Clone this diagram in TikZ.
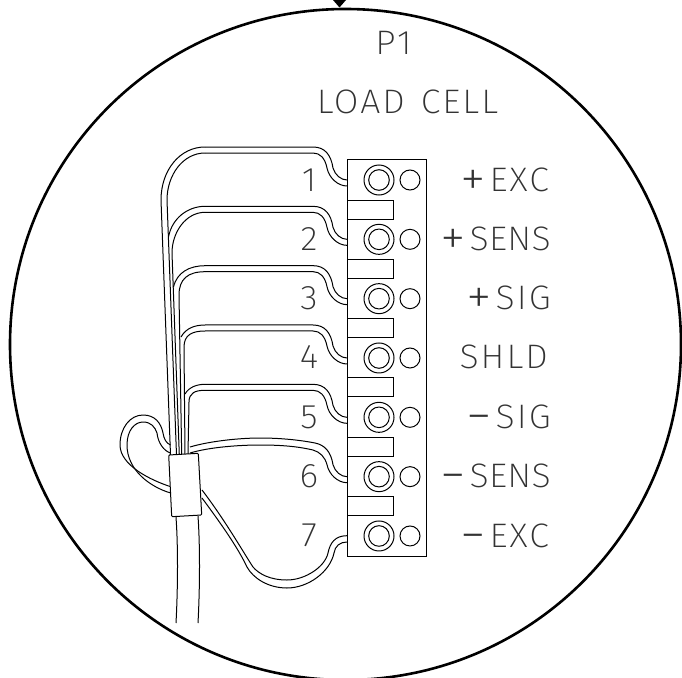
\documentclass[tikz,border=0pt]{standalone}
\usepackage{fontspec}
\newfontfamily\cadf{Fira Sans ExtraLight}[LetterSpace=6,FakeStretch=1.05]
\newfontfamily\cadn{Fira Sans ExtraLight}[LetterSpace=1,FakeStretch=1.05]
\newfontfamily\cads{Fira Sans ExtraLight}
\newcommand{\bigsign}[1]{\raisebox{-5.5pt}{\cads\fontsize{52}{52}\selectfont #1}\hspace{4pt}}
\tikzset{
  ring/.style={line width=2.6pt},
  thin line/.style={line width=1pt,black},
  lbl/.style={font=\cadf\fontsize{34}{34}\selectfont,inner sep=0pt,text=black!80},
}
\begin{document}
\begin{tikzpicture}[x=1pt,y=-1pt]
\useasboundingbox (0,0) rectangle (682,677);
\clip (0,0) rectangle (682,677);
% outer circle and pointer
\draw[ring] (345.5,344.5) circle[radius=335.5];
\fill (333,0) -- (346,0) -- (339.5,7.5) -- cycle;
% block
\draw[thin line] (347,159) rectangle (426,556);
\foreach \n in {0,...,6}{
  \begin{scope}[yshift=-\n*59.33pt]
    \draw[thin line] (379,180) circle[radius=15];
    \draw[thin line] (379,180) circle[radius=10.3];
    \draw[thin line] (410,180) circle[radius=10];
  \end{scope}
}
\foreach \n in {0,...,5}{
  \begin{scope}[yshift=-\n*59.33pt]
    \draw[thin line] (347,200) -- (393,200) -- (393,219) -- (347,219);
  \end{scope}
}
% wire top runs + S-bends
\foreach \n in {0,...,4}{
  \begin{scope}[yshift=-\n*59.33pt]
    \draw[thin line] (205,147) -- (313,147) .. controls (325,147) and (331,155) .. (333,168) .. controls (335,175) and (341,180) .. (347,180);
    \draw[thin line] (205,153) -- (313,153) .. controls (320,153) and (325,158) .. (327,168) .. controls (329,178) and (338,186) .. (347,186);
  \end{scope}
}
% left arcs and bundle
\draw[thin line] (205,147) .. controls (180,147) and (161,170) .. (161,200) -- (170.5,455);
\draw[thin line] (205,153) .. controls (183,153) and (167,175) .. (167,200) -- (176.5,455);
\draw[thin line] (205,206.3) .. controls (188,206.3) and (172,218) .. (168.5,237);
\draw[thin line] (205,212.3) .. controls (186,212.3) and (172,232) .. (172,253) -- (179.3,455);
\draw[thin line] (205,265.7) .. controls (190,265.7) and (177,272) .. (173.5,287);
\draw[thin line] (205,271.7) .. controls (188,271.7) and (179,279) .. (179,295) -- (181.7,455);
\draw[thin line] (205,325) .. controls (195,325) and (186,328) .. (181,337);
\draw[thin line] (205,331) .. controls (192,331) and (184,335) .. (184,347) -- (185,455);
\draw[thin line] (205,384.3) .. controls (197,384.3) and (189,387) .. (185,394);
\draw[thin line] (205,390.3) .. controls (195,390.3) and (189,393) .. (189,402) -- (188,454);
% wire 6
\draw[thin line] (190,447) .. controls (210,441) and (240,438) .. (260,438) .. controls (285,438) and (305,441) .. (315,443) .. controls (325,445) and (331,452) .. (333,464.7) .. controls (335,471.7) and (341,476.7) .. (347,476.7);
\draw[thin line] (190,453) .. controls (210,447) and (240,445) .. (260,445) .. controls (285,445) and (300,447) .. (313,450) .. controls (320,452) and (325,457) .. (327,464.7) .. controls (329,474.7) and (338,482.7) .. (347,482.7);
% wire 7
\draw[thin line] (347,535.7) .. controls (335,535.7) and (330,543) .. (328,553) .. controls (325,567) and (305,580) .. (287,580) .. controls (270,580) and (259,574) .. (253,567) .. controls (245,555) and (225,520) .. (202,490);
\draw[thin line] (347,542) .. controls (340,542) and (335,546) .. (334,553) .. controls (330,572) and (308,588) .. (287,588) .. controls (268,588) and (253,578) .. (247,567) .. controls (238,548) and (222,525) .. (202,498);
% loop
\draw[thin line] (170.7,486.7) .. controls (150,480) and (120,465) .. (120,445) .. controls (120,428) and (130,415) .. (143,415) .. controls (155,415) and (161,423) .. (163,433) .. controls (164,439) and (166,443) .. (170.5,445);
\draw[thin line] (170.7,493) .. controls (150,487) and (127,470) .. (127,445) .. controls (127,430) and (135,422) .. (143,422) .. controls (151,422) and (155,427) .. (157,433) .. controls (158,443) and (164,451) .. (170.5,453);
% clamp
\draw[thin line,fill=white,rounded corners=1pt] (168.7,455) -- (198.3,453.3) -- (201.7,515) -- (171.7,516.7) -- cycle;
% cable
\draw[thin line] (176,517) .. controls (178,545) and (178,585) .. (176,623);
\draw[thin line] (198,516) .. controls (200,545) and (200,585) .. (198,623);
% text
\node[lbl,anchor=base] (p1) at (393.5,55) {P1};
\node[lbl,anchor=base] (title) at (407.5,113) {LOAD\hspace{16pt}CELL};
\foreach \n/\t in {0/1,1/2,2/3,3/4,4/5,5/6,6/7}{
  \node[lbl,anchor=base] (num\n) at (309,{191+\n*59.33}) {\t};
}
\node[lbl,anchor=base east] (l1) at (549,191) {\bigsign{+}EXC};
\node[lbl,anchor=base east] (l2) at (551,250) {\bigsign{+}{\cadn\fontsize{34}{34}\selectfont SENS}};
\node[lbl,anchor=base east] (l3) at (551,309) {\bigsign{+}SIG};
\node[lbl,anchor=base east] (l4) at (548,368) {SHLD};
\node[lbl,anchor=base east] (l5) at (551,428) {\bigsign{\char"2212}SIG};
\node[lbl,anchor=base east] (l6) at (551,487) {\bigsign{\char"2212}{\cadn\fontsize{34}{34}\selectfont SENS}};
\node[lbl,anchor=base east] (l7) at (549,547) {\bigsign{\char"2212}EXC};
\end{tikzpicture}
\end{document}
